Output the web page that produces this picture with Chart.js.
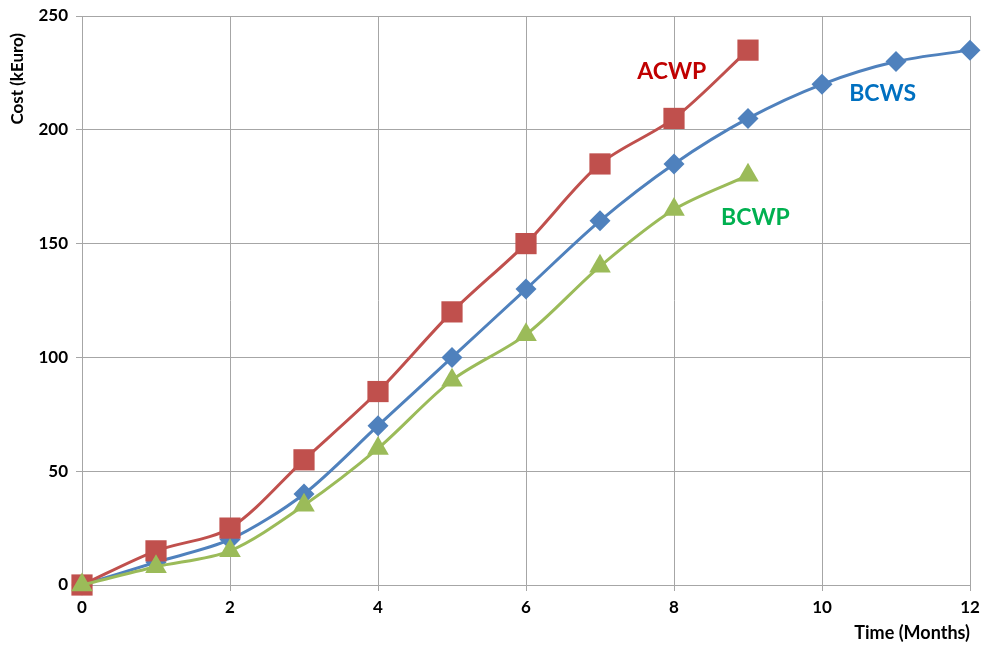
<!DOCTYPE html>
<html>
<head>
<meta charset="utf-8">
<script src="https://cdn.jsdelivr.net/npm/chart.js@4/dist/chart.umd.min.js"></script>
<style>
  html, body { margin: 0; padding: 0; background: #fff; overflow: hidden; }
  canvas { display: block; }
</style>
</head>
<body>
<canvas id="evm" width="981" height="646"></canvas>
<script>
// earned value curves, monthly
const months = [0, 1, 2, 3, 4, 5, 6, 7, 8, 9, 10, 11, 12];
const bcws = [0, 10, 20, 40, 70, 100, 130, 160, 185, 205, 220, 230, 235];
const acwp = [0, 15, 25, 55, 85, 120, 150, 185, 205, 235];
const bcwp = [0, 8, 15, 35, 60, 90, 110, 140, 165, 180];

const toPoints = (vals) => vals.map((v, i) => ({ x: months[i], y: v }));

const gridColor = "#a6a6a6";
const fontFam = "Lato, 'Open Sans', sans-serif";

// series names next to their curves, plus the rotated cost title
const curveLabels = {
  id: "curveLabels",
  afterDatasetsDraw(chart, args, opts) {
    const { ctx, scales, chartArea } = chart;
    ctx.save();
    ctx.font = "bold 23px " + fontFam;
    ctx.textAlign = "center";
    ctx.textBaseline = "middle";
    opts.items.forEach((it) => {
      ctx.fillStyle = it.color;
      ctx.fillText(it.text, scales.x.getPixelForValue(it.x), scales.y.getPixelForValue(it.y));
    });

    ctx.translate(18, chartArea.top + 17);
    ctx.rotate(-Math.PI / 2);
    ctx.font = "bold 17px " + fontFam;
    ctx.fillStyle = "#000";
    ctx.textAlign = "right";
    ctx.fillText(opts.yTitle, 0, 0);
    ctx.restore();
  },
};

const series = (label, vals, color, style, radius, order) => ({
  label: label,
  data: toPoints(vals),
  borderColor: color,
  backgroundColor: color,
  borderWidth: 3,
  pointStyle: style,
  pointRadius: radius,
  pointBorderWidth: 0,
  tension: 0.3,
  clip: false,
  order: order,
});

new Chart(document.getElementById("evm"), {
  type: "line",
  plugins: [curveLabels],
  data: {
    datasets: [
      series("BCWP", bcwp, "#9bbb59", "triangle", 12.5, 0),
      series("ACWP", acwp, "#c0504d", "rect", 15, 1),
      series("BCWS", bcws, "#4f81bd", "rectRot", 10.5, 2),
    ],
  },
  options: {
    responsive: false,
    animation: false,
    layout: { autoPadding: false, padding: { top: 16, right: 11, left: 0, bottom: 2 } },
    plugins: {
      legend: { display: false },
      tooltip: { enabled: false },
      curveLabels: {
        yTitle: "Cost (kEuro)",
        items: [
          { text: "ACWP", x: 7.97, y: 225.5, color: "#c00000" },
          { text: "BCWS", x: 10.82, y: 216, color: "#0070c0" },
          { text: "BCWP", x: 9.1, y: 161.5, color: "#00b050" },
        ],
      },
    },
    scales: {
      x: {
        type: "linear",
        min: 0,
        max: 12,
        ticks: {
          stepSize: 2,
          color: "#000",
          padding: 6,
          font: { family: fontFam, size: 17, weight: "bold" },
        },
        grid: { color: gridColor, tickLength: 6, tickColor: gridColor },
        border: { color: gridColor },
        title: {
          display: true,
          text: "Time (Months)",
          align: "end",
          color: "#000",
          padding: { top: 1, bottom: 0 },
          font: { family: fontFam, size: 18, weight: "bold" },
        },
        afterFit: (scale) => {
          scale.height = 59;
          scale.paddingLeft = 0;
          scale.paddingRight = 0;
        },
      },
      y: {
        min: 0,
        max: 250,
        ticks: {
          stepSize: 50,
          color: "#000",
          padding: 8,
          font: { family: fontFam, size: 17, weight: "bold" },
        },
        grid: { color: gridColor, tickLength: 6, tickColor: gridColor },
        border: { color: gridColor },
        afterFit: (scale) => {
          scale.width = 82;
          scale.paddingTop = 0;
          scale.paddingBottom = 0;
        },
      },
    },
  },
});
</script>
</body>
</html>
